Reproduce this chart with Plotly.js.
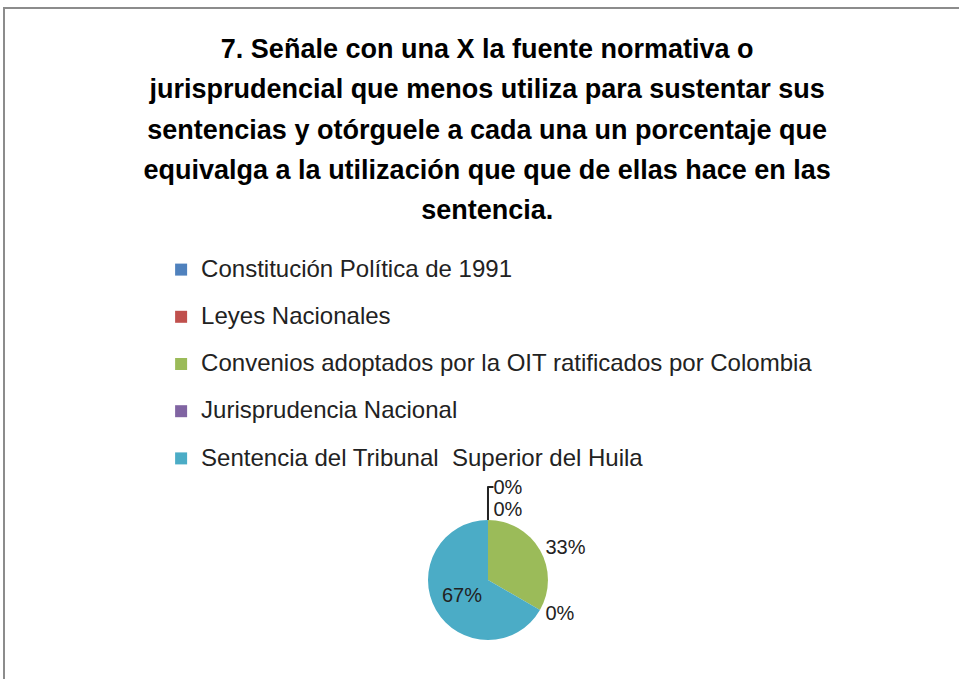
<!DOCTYPE html>
<html>
<head>
<meta charset="utf-8">
<script src="https://cdn.plot.ly/plotly-3.0.1.min.js"></script>
<style>
  html, body { margin: 0; padding: 0; background: #fff; overflow: hidden; }
  #chart { position: absolute; left: 0; top: 0; width: 959px; height: 679px; }
  #frame { position: absolute; left: 3px; top: 7px; width: 1000px; height: 800px;
           border: 2px solid #8c8c8c; box-sizing: border-box; pointer-events: none; }
</style>
</head>
<body>
<div id="chart"></div>
<div id="frame"></div>
<script>
const categories = [
  "Constitución Política de 1991",
  "Leyes Nacionales",
  "Convenios adoptados por la OIT ratificados por Colombia",
  "Jurisprudencia Nacional",
  "Sentencia del Tribunal  Superior del Huila"
];
const values = [0, 0, 1, 0, 2];
const colors = ["#4F81BD", "#C0504D", "#9BBB59", "#8064A2", "#4BACC6"];
const titleLines = [
  "7. Señale con una X la fuente normativa o",
  "jurisprudencial que menos utiliza para sustentar sus",
  "sentencias y otórguele a cada una un porcentaje que",
  "equivalga a la utilización que que de ellas hace en las",
  "sentencia."
];

const FONT = "Liberation Sans, Arial, sans-serif";
const legendLabels = categories.map(c =>
  "<span style='font-size:24px;baseline-shift:6px'>" + c.replace(/  /g, " \u00a0") + "</span>");

const trace = {
  type: "pie",
  labels: legendLabels,
  values: values,
  sort: false,
  direction: "clockwise",
  rotation: 0,
  marker: { colors: colors, line: { width: 0 } },
  textinfo: "percent",
  texttemplate: "%{percent:.0%}",
  textposition: ["outside", "outside", "outside", "outside", "inside"],
  insidetextfont: { family: FONT, size: 20, color: "#222" },
  outsidetextfont: { family: FONT, size: 20, color: "#222" },
  hoverinfo: "none",
  showlegend: true,
  domain: { x: [0.4463, 0.5714], y: [0.0574, 0.2342] }
};

const layout = {
  width: 959, height: 679,
  margin: { l: 0, r: 0, t: 0, b: 0 },
  paper_bgcolor: "#fff",
  plot_bgcolor: "#fff",
  title: {
    text: titleLines.map(l => "<span style='font-size:27px'>" + l + "</span>").join("<br>"),
    font: { family: FONT, size: 31, color: "#000", weight: "bold" },
    x: 0.508, xanchor: "center",
    y: 1 - 58 / 679, yanchor: "top"
  },
  legend: {
    x: 0.168, xanchor: "left",
    y: 1 - 241 / 679, yanchor: "top",
    font: { family: FONT, size: 34, color: "#222" },
    bgcolor: "rgba(0,0,0,0)",
    traceorder: "normal"
  },
  showlegend: true
};

Plotly.newPlot("chart", [trace], layout, { displayModeBar: false, staticPlot: true });
</script>
</body>
</html>
